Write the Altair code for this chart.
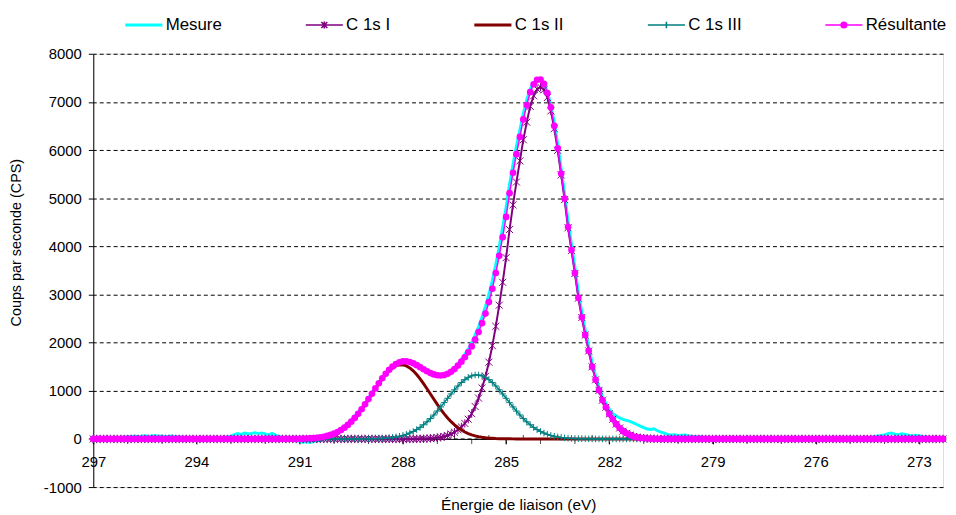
import altair as alt
import pandas as pd

# Energy grid: 297.0 eV down to 272.3 eV, 0.1 eV step (248 points)
E_START = 297.0
E_STEP = 0.1
N = 248

series_names = ["Mesure", "C 1s I", "C 1s II", "C 1s III", "Résultante"]
series_colors = ["#00FFFF", "#800080", "#800000", "#008080", "#FF00FF"]

mesure = [
    10, 20, 5, 15, 25, 10, 20, 30, 15, 35,
    50, 45, 60, 50, 55, 65, 50, 60, 70, 55,
    60, 45, 55, 60, 40, 45, 30, 20, 25, 10,
    15, 20, 5, 15, 10, 25, 20, 15, 30, 40,
    55, 90, 110, 95, 120, 105, 115, 130, 110, 125,
    105, 90, 115, 80, 50, 30, 15, 0, -20, -40,
    -55, -70, -60, -75, -55, -40, -20, 10, 50, 90,
    130, 170, 215, 265, 325, 395, 470, 555, 645, 745,
    850, 955, 1060, 1170, 1270, 1360, 1440, 1500, 1555, 1585,
    1605, 1600, 1590, 1560, 1525, 1480, 1440, 1395, 1365, 1335,
    1320, 1325, 1335, 1370, 1420, 1480, 1560, 1650, 1755, 1870,
    2000, 2160, 2330, 2530, 2750, 3000, 3290, 3620, 3990, 4390,
    4810, 5290, 5700, 6080, 6420, 6760, 7040, 7270, 7400, 7470,
    7450, 7380, 7210, 6930, 6570, 6120, 5610, 5090, 4520, 4040,
    3560, 3040, 2630, 2260, 1920, 1580, 1310, 1080, 880, 740,
    620, 530, 475, 435, 405, 385, 365, 335, 300, 265,
    235, 205, 195, 210, 170, 140, 120, 95, 80, 85,
    70, 75, 80, 65, 55, 50, 45, 40, 35, 30,
    25, 20, 30, 15, 10, 20, 5, 15, 10, 0,
    10, 5, 15, 0, 10, 5, -5, 10, 5, 0,
    10, 5, -5, 5, 10, 0, 5, -5, 10, 5,
    0, 5, -10, 0, 5, -5, 0, -10, -15, -20,
    -25, -10, 0, 5, 0, 10, 25, 45, 60, 70,
    85, 110, 125, 100, 90, 105, 95, 80, 60, 75,
    65, 50, 40, 30, 35, 20, 25, 15,
]

c1s_1 = [
    0, 0, 0, 0, 0, 0, 0, 0, 0, 0,
    0, 0, 0, 0, 0, 0, 0, 0, 0, 0,
    0, 0, 0, 0, 0, 0, 0, 0, 0, 0,
    0, 0, 0, 0, 0, 0, 0, 0, 0, 0,
    0, 0, 0, 0, 0, 0, 0, 0, 0, 0,
    0, 0, 0, 0, 0, 0, 0, 0, 0, 0,
    0, 0, 0, 0, 0, 0, 0, 0, 0, 0,
    0, 0, 0, 0, 0, 0, 0, 0, 0, 0,
    0, 0, 0, 0, 0, 0, 0, 0, 0, 0,
    0, 0, 0, 0, 1, 2, 4, 7, 12, 18,
    26, 37, 51, 73, 102, 139, 190, 249, 322, 409,
    526, 673, 848, 1060, 1301, 1594, 1937, 2339, 2778, 3253,
    3765, 4349, 4861, 5336, 5775, 6214, 6579, 6908, 7127, 7266,
    7310, 7252, 7091, 6813, 6447, 5994, 5483, 4971, 4386, 3911,
    3436, 2924, 2522, 2156, 1828, 1499, 1228, 1009, 804, 658,
    519, 409, 307, 227, 161, 117, 80, 51, 33, 22,
    15, 10, 6, 4, 2, 1, 0, 0, 0, 0,
    0, 0, 0, 0, 0, 0, 0, 0, 0, 0,
    0, 0, 0, 0, 0, 0, 0, 0, 0, 0,
    0, 0, 0, 0, 0, 0, 0, 0, 0, 0,
    0, 0, 0, 0, 0, 0, 0, 0, 0, 0,
    0, 0, 0, 0, 0, 0, 0, 0, 0, 0,
    0, 0, 0, 0, 0, 0, 0, 0, 0, 0,
    0, 0, 0, 0, 0, 0, 0, 0, 0, 0,
    0, 0, 0, 0, 0, 0, 0, 0,
]

c1s_2 = [
    0, 0, 0, 0, 0, 0, 0, 0, 0, 0,
    0, 0, 0, 0, 0, 0, 0, 0, 0, 0,
    0, 0, 0, 0, 0, 0, 0, 0, 0, 0,
    0, 0, 0, 0, 0, 0, 0, 0, 0, 0,
    0, 0, 0, 0, 0, 0, 0, 0, 0, 0,
    0, 0, 0, 0, 0, 0, 0, 1, 2, 2,
    4, 6, 8, 12, 17, 24, 34, 46, 63, 84,
    110, 144, 185, 234, 292, 359, 436, 521, 616, 717,
    824, 933, 1043, 1149, 1249, 1338, 1415, 1475, 1516, 1537,
    1537, 1516, 1475, 1415, 1338, 1249, 1149, 1043, 933, 824,
    717, 616, 521, 436, 359, 292, 234, 185, 144, 110,
    84, 63, 46, 34, 24, 17, 12, 8, 6, 4,
    2, 2, 1, 0, 0, 0, 0, 0, 0, 0,
    0, 0, 0, 0, 0, 0, 0, 0, 0, 0,
    0, 0, 0, 0, 0, 0, 0, 0, 0, 0,
    0, 0, 0, 0, 0, 0, 0, 0, 0, 0,
    0, 0, 0, 0, 0, 0, 0, 0, 0, 0,
    0, 0, 0, 0, 0, 0, 0, 0, 0, 0,
    0, 0, 0, 0, 0, 0, 0, 0, 0, 0,
    0, 0, 0, 0, 0, 0, 0, 0, 0, 0,
    0, 0, 0, 0, 0, 0, 0, 0, 0, 0,
    0, 0, 0, 0, 0, 0, 0, 0, 0, 0,
    0, 0, 0, 0, 0, 0, 0, 0, 0, 0,
    0, 0, 0, 0, 0, 0, 0, 0, 0, 0,
    0, 0, 0, 0, 0, 0, 0, 0,
]

c1s_3 = [
    0, 0, 0, 0, 0, 0, 0, 0, 0, 0,
    0, 0, 0, 0, 0, 0, 0, 0, 0, 0,
    0, 0, 0, 0, 0, 0, 0, 0, 0, 0,
    0, 0, 0, 0, 0, 0, 0, 0, 0, 0,
    0, 0, 0, 0, 0, 0, 0, 0, 0, 0,
    0, 0, 0, 0, 0, 0, 0, 0, 0, 0,
    0, 0, 0, 0, 0, 0, 0, 0, 0, 0,
    0, 0, 0, 0, 0, 0, 0, 0, 1, 2,
    3, 4, 6, 8, 11, 16, 22, 30, 41, 55,
    73, 95, 122, 155, 194, 240, 294, 355, 423, 498,
    579, 665, 754, 844, 934, 1020, 1100, 1171, 1231, 1279,
    1311, 1328, 1328, 1311, 1279, 1231, 1171, 1100, 1020, 934,
    844, 754, 665, 579, 498, 423, 355, 294, 240, 194,
    155, 122, 95, 73, 55, 41, 30, 22, 16, 11,
    8, 6, 4, 3, 2, 1, 0, 0, 0, 0,
    0, 0, 0, 0, 0, 0, 0, 0, 0, 0,
    0, 0, 0, 0, 0, 0, 0, 0, 0, 0,
    0, 0, 0, 0, 0, 0, 0, 0, 0, 0,
    0, 0, 0, 0, 0, 0, 0, 0, 0, 0,
    0, 0, 0, 0, 0, 0, 0, 0, 0, 0,
    0, 0, 0, 0, 0, 0, 0, 0, 0, 0,
    0, 0, 0, 0, 0, 0, 0, 0, 0, 0,
    0, 0, 0, 0, 0, 0, 0, 0, 0, 0,
    0, 0, 0, 0, 0, 0, 0, 0, 0, 0,
    0, 0, 0, 0, 0, 0, 0, 0,
]

resultante = [
    0, 0, 0, 0, 0, 0, 0, 0, 0, 0,
    0, 0, 0, 0, 0, 0, 0, 0, 0, 0,
    0, 0, 0, 0, 0, 0, 0, 0, 0, 0,
    0, 0, 0, 0, 0, 0, 0, 0, 0, 0,
    0, 0, 0, 0, 0, 0, 0, 0, 0, 0,
    0, 0, 0, 0, 0, 0, 0, 1, 2, 2,
    4, 6, 8, 12, 17, 24, 34, 46, 63, 84,
    110, 144, 185, 234, 292, 359, 436, 521, 617, 719,
    827, 937, 1049, 1157, 1260, 1354, 1437, 1505, 1557, 1592,
    1610, 1611, 1597, 1570, 1533, 1491, 1447, 1405, 1368, 1340,
    1322, 1318, 1326, 1353, 1395, 1451, 1524, 1605, 1697, 1798,
    1921, 2064, 2222, 2405, 2604, 2842, 3120, 3447, 3804, 4191,
    4611, 5105, 5527, 5915, 6273, 6637, 6934, 7202, 7367, 7460,
    7465, 7374, 7186, 6886, 6502, 6035, 5513, 4993, 4402, 3922,
    3444, 2930, 2526, 2159, 1830, 1500, 1228, 1009, 804, 658,
    519, 409, 307, 227, 161, 117, 80, 51, 33, 22,
    15, 10, 6, 4, 2, 1, 0, 0, 0, 0,
    0, 0, 0, 0, 0, 0, 0, 0, 0, 0,
    0, 0, 0, 0, 0, 0, 0, 0, 0, 0,
    0, 0, 0, 0, 0, 0, 0, 0, 0, 0,
    0, 0, 0, 0, 0, 0, 0, 0, 0, 0,
    0, 0, 0, 0, 0, 0, 0, 0, 0, 0,
    0, 0, 0, 0, 0, 0, 0, 0, 0, 0,
    0, 0, 0, 0, 0, 0, 0, 0, 0, 0,
    0, 0, 0, 0, 0, 0, 0, 0,
]

x_ticks = [297, 296, 295, 294, 293, 292, 291, 290, 289, 288, 287, 286, 285,
           284, 283, 282, 281, 280, 279, 278, 277, 276, 275, 274, 273]
x_labels = [297, 294, 291, 288, 285, 282, 279, 276, 273]
x_minor = [296.5, 295.5, 294.5, 293.5, 292.5, 291.5, 290.5, 289.5, 288.5,
           287.5, 286.5, 285.5, 284.5, 283.5, 282.5, 281.5, 280.5, 279.5,
           278.5, 277.5, 276.5, 275.5, 274.5, 273.5, 272.5]
y_ticks = [-1000, 0, 1000, 2000, 3000, 4000, 5000, 6000, 7000, 8000]

for s in (mesure, c1s_1, c1s_2, c1s_3, resultante):
    assert len(s) == N, len(s)

energy = [round(E_START - E_STEP * i, 1) for i in range(N)]
rows = []
for name, vals in zip(series_names, [mesure, c1s_1, c1s_2, c1s_3, resultante]):
    for e, v in zip(energy, vals):
        rows.append({"E": e, "v": v, "serie": name})
df = pd.DataFrame(rows)
df_major = pd.DataFrame({"E": x_ticks, "v": [0] * len(x_ticks)})
df_minor = pd.DataFrame({"E": x_minor, "v": [0] * len(x_minor)})

FONT = "Liberation Sans, Arial, sans-serif"
W, H = 857, 437

# data marker glyphs
asterisk = "M-1,-1L1,1M-1,1L1,-1M0,-1.2L0,1.2"
plus = "M-1,0L1,0M0,-1L0,1"

# legend glyphs: line segment + marker, in a unit box (-1..1)
thick_line = "M-1,0L1,0M-1,0.035L1,0.035M-1,-0.035L1,-0.035"
thin_line = "M-1,0L1,0"
leg_ast = "M-0.16,-0.16L0.16,0.16M-0.16,0.16L0.16,-0.16M0,-0.19L0,0.19"
leg_plus = "M-0.18,0L0.18,0M0,-0.18L0,0.18"
leg_dot = ("M-0.15,0A0.15,0.15 0 1,0 0.15,0A0.15,0.15 0 1,0 -0.15,0"
           "M-0.07,0A0.07,0.07 0 1,0 0.07,0A0.07,0.07 0 1,0 -0.07,0M-0.02,0L0.02,0")
legend_glyphs = [
    thick_line,
    thin_line + leg_ast,
    thick_line,
    thin_line + leg_plus,
    thin_line + leg_dot,
]

x_enc = alt.X(
    "E:Q",
    scale=alt.Scale(domain=[272.3, 297], reverse=True, nice=False, zero=False),
    axis=alt.Axis(
        values=x_labels, format="d", title="Énergie de liaison (eV)",
        grid=False, offset=-H / 9.0, tickSize=5, tickColor="#000", domainColor="#000",
        labelFont=FONT, labelFontSize=15, labelColor="#000", labelPadding=11,
        labelOverlap=False, labelFlush=False, titleFont=FONT, titleFontSize=15.5,
        titleFontWeight="normal", titleColor="#000", titlePadding=28,
    ),
)
y_enc = alt.Y(
    "v:Q",
    scale=alt.Scale(domain=[-1000, 8000], nice=False, zero=False),
    axis=alt.Axis(
        values=y_ticks, labelExpr="datum.value + ''", title="Coups par seconde (CPS)",
        grid=True, gridDash=[4, 3], gridColor="#000", gridWidth=1, tickSize=5,
        tickColor="#000", domainColor="#000", labelFont=FONT, labelFontSize=15,
        labelColor="#000", labelPadding=7, labelFlush=False, titleFont=FONT,
        titleFontSize=14.5, titleFontWeight="normal", titleColor="#000",
        titleX=-70, titleY=190,
    ),
)
legend = alt.Legend(
    title=None, orient="none", legendX=31, legendY=-49, direction="horizontal",
    symbolSize=1400, symbolStrokeWidth=1.6, symbolFillColor="transparent",
    labelFont=FONT, labelFontSize=17, labelColor="#000", labelOffset=2,
    columnPadding=81,
)
color_enc = alt.Color(
    "serie:N", scale=alt.Scale(domain=series_names, range=series_colors), legend=legend,
)
shape_enc = alt.Shape(
    "serie:N", scale=alt.Scale(domain=series_names, range=legend_glyphs), legend=legend,
)

base = alt.Chart(df).encode(x=x_enc, y=y_enc, color=color_enc)

def sel(name):
    return base.transform_filter(alt.datum.serie == name)

# carries the legend glyphs only (no rows pass the filter)
legend_carrier = base.transform_filter("false").mark_point(
    filled=False, opacity=1
).encode(shape=shape_enc)

major_ticks = alt.Chart(df_major).mark_tick(
    orient="vertical", size=5, thickness=1, color="#000", yOffset=2.5
).encode(x=alt.X("E:Q"), y=alt.Y("v:Q"))
minor_ticks = alt.Chart(df_minor).mark_tick(
    orient="vertical", size=4, thickness=1, color="#000", yOffset=-2
).encode(x=alt.X("E:Q"), y=alt.Y("v:Q"))

layers = [
    major_ticks,
    minor_ticks,
    legend_carrier,
    sel("Mesure").mark_line(strokeWidth=3),
    sel("C 1s I").mark_line(strokeWidth=2),
    sel("C 1s I").mark_point(shape=asterisk, size=50, filled=False, strokeWidth=1, opacity=1),
    sel("C 1s II").mark_line(strokeWidth=3),
    sel("C 1s III").mark_line(strokeWidth=1.5),
    sel("C 1s III").mark_point(shape=plus, size=45, filled=False, strokeWidth=1, opacity=1),
    sel("Résultante").mark_line(strokeWidth=1.5),
    sel("Résultante").mark_point(shape="circle", size=45, filled=True, opacity=1),
]

chart = alt.layer(*layers).properties(
    width=W, height=H,
    autosize=alt.AutoSizeParams(type="none"),
    padding={"left": 86, "top": 44, "right": 5, "bottom": 26},
).configure_view(strokeWidth=0).configure(background="white")

chart.save("out.html", embed_options={"renderer": "svg", "actions": False})
